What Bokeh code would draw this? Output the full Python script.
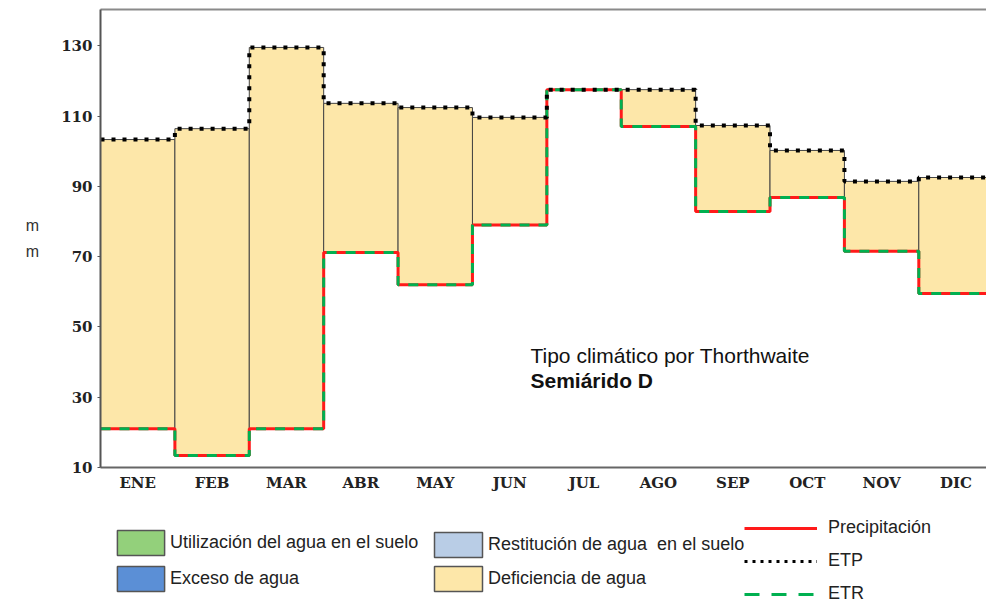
from bokeh.plotting import figure
from bokeh.layouts import column
from bokeh.models import (ColumnDataSource, Range1d, FixedTicker, LinearAxis,
                          Legend, LegendItem, Label)
from bokeh.embed import file_html
from bokeh.resources import INLINE

# ---------------- data ----------------
months = ["ENE", "FEB", "MAR", "ABR", "MAY", "JUN", "JUL", "AGO", "SEP", "OCT", "NOV", "DIC"]
precip = [21.0, 13.4, 21.0, 71.2, 62.0, 79.0, 117.5, 107.0, 82.8, 86.8, 71.5, 59.5]
etp = [103.3, 106.4, 129.5, 113.6, 112.4, 109.6, 117.5, 117.5, 107.3, 100.2, 91.4, 92.5]
etr = [21.0, 13.4, 21.0, 71.2, 62.0, 79.0, 117.5, 107.0, 82.8, 86.8, 71.5, 59.5]
y_ticks = [10, 30, 50, 70, 90, 110, 130]

# ---------------- styles ----------------
C_UTIL = "#93d07b"
C_EXCE = "#5b8fd6"
C_REST = "#b9cde6"
C_DEFI = "#fde7a9"
C_PREC = "#ff1a1a"
C_ETR = "#00b050"
C_ETP = "black"

# ---------------- derived sources ----------------
idx = list(range(len(months)))
defi = dict(left=[], right=[], bottom=[], top=[])
exce = dict(left=[], right=[], bottom=[], top=[])
for i in idx:
    if etp[i] > precip[i]:
        defi["left"].append(i); defi["right"].append(i + 1)
        defi["bottom"].append(precip[i]); defi["top"].append(etp[i])
    elif precip[i] > etp[i]:
        exce["left"].append(i); exce["right"].append(i + 1)
        exce["bottom"].append(etp[i]); exce["top"].append(precip[i])

edges = list(range(len(months) + 1))
p_step = precip + [precip[-1]]
etp_step = etp + [etp[-1]]
etr_step = etr + [etr[-1]]

# ---------------- main figure ----------------
p = figure(width=986, height=500, x_range=Range1d(0, 11.91), y_range=Range1d(10, 140.3),
           output_backend="svg", toolbar_location=None,
           min_border_left=100, min_border_right=0, min_border_top=9, min_border_bottom=33)
p.outline_line_color = None
p.grid.visible = False

p.quad(source=ColumnDataSource(exce), left="left", right="right", bottom="bottom", top="top",
       fill_color=C_EXCE, line_color="#555555", line_width=1.5)
p.quad(source=ColumnDataSource(defi), left="left", right="right", bottom="bottom", top="top",
       fill_color=C_DEFI, line_color="#444444", line_width=1)

p.step(edges, p_step, mode="after", line_color=C_PREC, line_width=3)
p.step(edges, etr_step, mode="after", line_color=C_ETR, line_width=3, line_dash="10 9")
p.step(edges, etp_step, mode="after", line_color=C_ETP, line_width=4, line_dash="4 7")

# axes
p.xaxis.ticker = FixedTicker(ticks=[i + 0.5 for i in idx])
p.xaxis.major_label_overrides = {i + 0.5: m for i, m in zip(idx, months)}
p.xaxis.major_tick_line_color = None
p.xaxis.minor_tick_line_color = None
p.xaxis.axis_line_color = "#666666"
p.xaxis.axis_line_width = 2
p.xaxis.major_label_text_font = "DejaVu Serif"
p.xaxis.major_label_text_font_style = "bold"
p.xaxis.major_label_text_font_size = "15px"
p.xaxis.major_label_text_color = "#222222"
p.xaxis.major_label_standoff = 0

p.yaxis.ticker = FixedTicker(ticks=y_ticks)
p.yaxis.major_tick_out = 3
p.yaxis.major_tick_in = 0
p.yaxis.major_tick_line_color = "#555555"
p.yaxis.minor_tick_line_color = None
p.yaxis.axis_line_color = "#555555"
p.yaxis.axis_line_width = 2
p.yaxis.major_label_text_font = "DejaVu Serif"
p.yaxis.major_label_text_font_style = "bold"
p.yaxis.major_label_text_font_size = "15px"
p.yaxis.major_label_text_color = "#222222"
p.yaxis.major_label_standoff = 5
p.yaxis.axis_label = "m\nm"
p.yaxis.axis_label_orientation = "horizontal"
p.yaxis.axis_label_text_font = "Liberation Sans"
p.yaxis.axis_label_text_font_style = "normal"
p.yaxis.axis_label_text_font_size = "16px"
p.yaxis.axis_label_text_color = "#333333"
p.yaxis.axis_label_text_line_height = 1.5
p.yaxis.axis_label_standoff = 19

top_axis = LinearAxis(ticker=FixedTicker(ticks=[]), axis_line_color="#8a8a8a", axis_line_width=2,
                      major_tick_line_color=None, minor_tick_line_color=None,
                      major_label_text_font_size="0px")
p.add_layout(top_axis, "above")

# annotation
p.add_layout(Label(x=5.78, y=38.7, text="Tipo climático por Thorthwaite", text_font="Liberation Sans",
                   text_font_size="21px", text_color="#111111"))
p.add_layout(Label(x=5.78, y=31.4, text="Semiárido D", text_font="Liberation Sans",
                   text_font_style="bold", text_font_size="21px", text_color="#111111"))

# ---------------- legend figure ----------------
lg = figure(width=986, height=104, x_range=Range1d(0, 1), y_range=Range1d(0, 1),
            output_backend="svg", toolbar_location=None, x_axis_type=None, y_axis_type=None,
            min_border_left=0, min_border_right=0, min_border_top=0, min_border_bottom=0)
lg.outline_line_color = None
lg.grid.visible = False

# legend proxies: one swatch each, kept outside the visible range of this legend-only panel
def proxy_quad(color):
    return lg.quad(left=[-3], right=[-2], bottom=[-3], top=[-2],
                   fill_color=color, line_color="#555555", line_width=1.5)

def proxy_line(**kw):
    return lg.line(x=[-3, -2], y=[-3, -3], **kw)

r_util = proxy_quad(C_UTIL)
r_exce = proxy_quad(C_EXCE)
r_rest = proxy_quad(C_REST)
r_defi = proxy_quad(C_DEFI)
r_prec = proxy_line(line_color=C_PREC, line_width=3)
r_etp = proxy_line(line_color=C_ETP, line_width=3, line_dash="3 5")
r_etr = proxy_line(line_color=C_ETR, line_width=3, line_dash="15 12")

common = dict(padding=0, margin=0, border_line_color=None, background_fill_alpha=0,
              label_text_font="Liberation Sans", label_text_font_size="18px",
              label_text_color="#222222", orientation="vertical")

leg1 = Legend(items=[LegendItem(label="Utilización del agua en el suelo", renderers=[r_util]),
                     LegendItem(label="Exceso de agua", renderers=[r_exce])],
              location=(11, 10), glyph_width=59, glyph_height=31, label_height=31,
              spacing=5, label_standoff=0, **common)
leg2 = Legend(items=[LegendItem(label="Restitución de agua  en el suelo", renderers=[r_rest]),
                     LegendItem(label="Deficiencia de agua", renderers=[r_defi])],
              location=(328, 10), glyph_width=60, glyph_height=31, label_height=31,
              spacing=3, label_standoff=0, **common)
leg3 = Legend(items=[LegendItem(label="Precipitación", renderers=[r_prec]),
                     LegendItem(label="ETP", renderers=[r_etp]),
                     LegendItem(label="ETR", renderers=[r_etr])],
              location=(644, 0), glyph_width=73, glyph_height=20, label_height=20,
              spacing=12, label_standoff=11, **common)
for l in (leg1, leg2, leg3):
    lg.add_layout(l, "center")

layout = column(p, lg, spacing=0)
open("out.html", "w").write(file_html(layout, INLINE))
